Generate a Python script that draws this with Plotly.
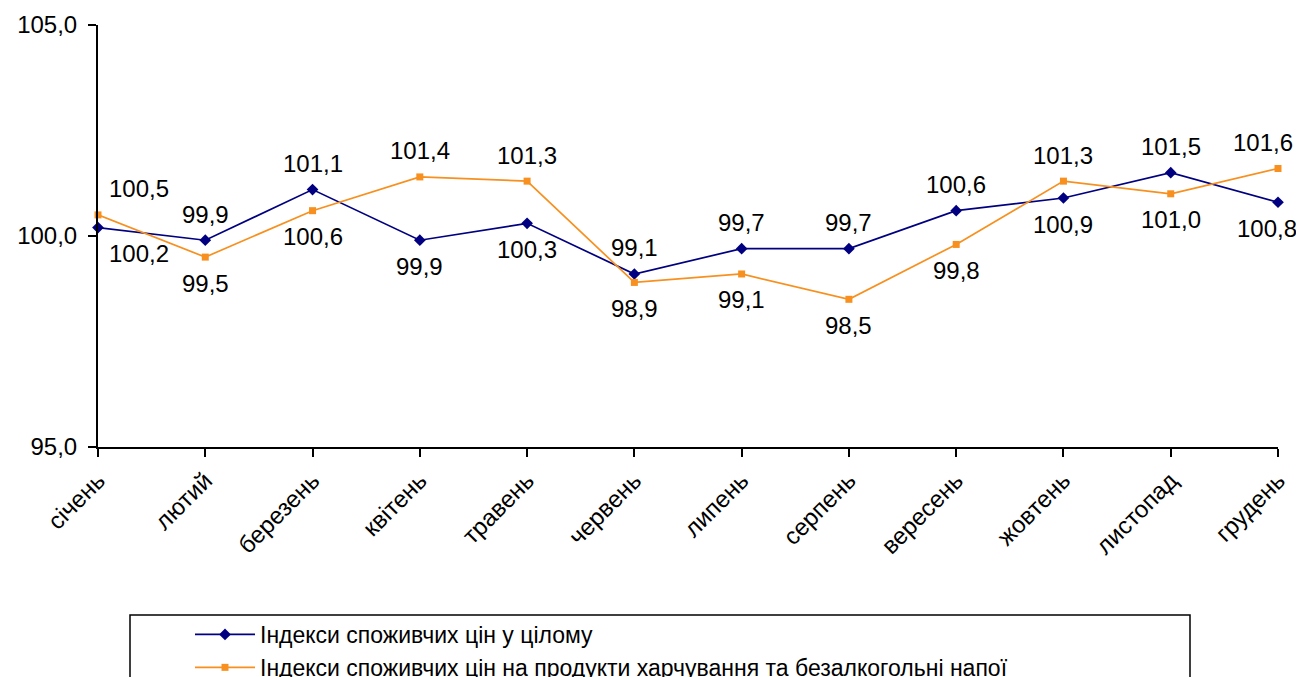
import plotly.graph_objects as go

months = ["січень", "лютий", "березень", "квітень", "травень", "червень",
          "липень", "серпень", "вересень", "жовтень", "листопад", "грудень"]
cpi_total = [100.2, 99.9, 101.1, 99.9, 100.3, 99.1, 99.7, 99.7, 100.6, 100.9, 101.5, 100.8]
cpi_food = [100.5, 99.5, 100.6, 101.4, 101.3, 98.9, 99.1, 98.5, 99.8, 101.3, 101.0, 101.6]
# label side: +1 above, -1 below
total_side = [-1, 1, 1, -1, -1, 1, 1, 1, 1, -1, 1, -1]
food_side = [1, -1, -1, 1, 1, -1, -1, -1, -1, 1, -1, 1]
name_total = "Індекси споживчих цін у цілому"
name_food = "Індекси споживчих цін на продукти харчування та безалкогольні напої"
y_ticks = [95, 100, 105]

NAVY = "#000080"
ORANGE = "#F7901E"
FONT = "Liberation Sans, Arial, sans-serif"
FS = 24

# page has an 8px body margin; figure sized so it fits the window
W, H = 1296, 669
ML, MT, MR, MB = 90, 17, 26, 230
PW = W - ML - MR
PH = H - MT - MB

def px_to_xpaper(px_page):
    return (px_page - 8 - ML) / PW

def px_to_ypaper(py_page):
    return (H - MB - (py_page - 8)) / PH

x = list(range(len(months)))
fig = go.Figure()
fig.add_trace(go.Scatter(x=x, y=cpi_total, mode="lines+markers", name=name_total,
                         line=dict(color=NAVY, width=1.7),
                         marker=dict(symbol="diamond", size=9, color=NAVY),
                         cliponaxis=False))
fig.add_trace(go.Scatter(x=x, y=cpi_food, mode="lines+markers", name=name_food,
                         line=dict(color=ORANGE, width=1.7),
                         marker=dict(symbol="square", size=7, color=ORANGE),
                         cliponaxis=False))

def fmt(v):
    return f"{v:.1f}".replace(".", ",")

last = len(months) - 1
for vals, sides, end_shift in ((cpi_total, total_side, -11), (cpi_food, food_side, -15)):
    for i, (v, s) in enumerate(zip(vals, sides)):
        xshift = 0
        if i == 0:
            xshift = 41
        elif i == last:
            xshift = end_shift
        fig.add_annotation(x=i, y=v, text=fmt(v), showarrow=False,
                           yshift=26 * s, xshift=xshift,
                           font=dict(family=FONT, size=FS, color="black"))

# legend frame
fig.add_shape(type="rect", xref="paper", yref="paper",
              x0=px_to_xpaper(130), x1=px_to_xpaper(1190),
              y0=px_to_ypaper(615), y1=px_to_ypaper(720),
              line=dict(color="black", width=1.5), fillcolor="rgba(0,0,0,0)",
              layer="above")

fig.update_layout(
    width=W, height=H,
    margin=dict(l=ML, r=MR, t=MT, b=MB, autoexpand=False),
    paper_bgcolor="white", plot_bgcolor="white",
    font=dict(family=FONT, size=FS, color="black"),
    showlegend=True,
    legend=dict(x=px_to_xpaper(190), y=px_to_ypaper(613), xanchor="left", yanchor="top",
                orientation="v", borderwidth=0,
                font=dict(family=FONT, size=23),
                tracegroupgap=0, itemwidth=60, bgcolor="rgba(0,0,0,0)"),
)
fig.update_xaxes(range=[0, 11], tickmode="array", tickvals=x, ticktext=months,
                 tickangle=-45, showline=True, linecolor="black", linewidth=2,
                 ticks="outside", ticklen=8, tickcolor="black", tickwidth=2,
                 showgrid=False, zeroline=False, automargin=False,
                 tickfont=dict(family=FONT, size=FS))
fig.update_yaxes(range=[95, 105], tickmode="array", tickvals=y_ticks,
                 ticktext=[fmt(v) for v in y_ticks],
                 showline=True, linecolor="black", linewidth=2,
                 ticks="outside", ticklen=8, tickcolor="black", tickwidth=2,
                 ticklabelstandoff=6,
                 showgrid=False, zeroline=False, automargin=False,
                 tickfont=dict(family=FONT, size=FS))

fig.write_html("out.html")
